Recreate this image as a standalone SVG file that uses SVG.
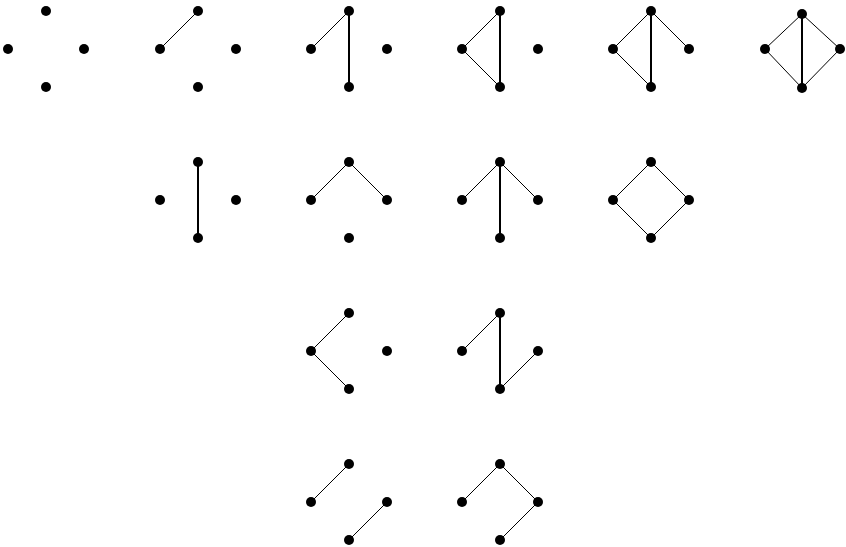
<svg xmlns="http://www.w3.org/2000/svg" width="846" height="547" viewBox="0 0 846 547">
<style>
.e{stroke:#000;stroke-width:1;fill:none}
.v{stroke:#000;stroke-width:2;fill:none}
.d{fill:#000}
</style>
<rect width="846" height="547" fill="#fff"/>
<g id="connectors">
<!-- G2 -->
<line class="e" x1="160" y1="49" x2="198" y2="11"/>
<!-- G3 -->
<line class="e" x1="311" y1="49" x2="349" y2="11"/>
<line class="v" x1="349" y1="11" x2="349" y2="87"/>
<!-- G4 -->
<line class="e" x1="462" y1="49" x2="500" y2="11"/>
<line class="e" x1="462" y1="49" x2="500" y2="87"/>
<line class="v" x1="500" y1="11" x2="500" y2="87"/>
<!-- G5 -->
<line class="e" x1="613" y1="49" x2="651" y2="11"/>
<line class="e" x1="613" y1="49" x2="651" y2="87"/>
<line class="v" x1="651" y1="11" x2="651" y2="87"/>
<line class="e" x1="651" y1="11" x2="689" y2="49"/>
<!-- G6 -->
<line class="e" x1="765" y1="49" x2="802" y2="14"/>
<line class="e" x1="765" y1="49" x2="802" y2="88"/>
<line class="v" x1="802" y1="14" x2="802" y2="88"/>
<line class="e" x1="802" y1="14" x2="840" y2="49"/>
<line class="e" x1="840" y1="49" x2="802" y2="88"/>
<!-- G7 -->
<line class="v" x1="198" y1="162" x2="198" y2="238"/>
<!-- G8 -->
<line class="e" x1="311" y1="200" x2="349" y2="162"/>
<line class="e" x1="349" y1="162" x2="387" y2="200"/>
<!-- G9 -->
<line class="e" x1="462" y1="200" x2="500" y2="162"/>
<line class="e" x1="500" y1="162" x2="538" y2="200"/>
<line class="v" x1="500" y1="162" x2="500" y2="238"/>
<!-- G10 -->
<line class="e" x1="613" y1="200" x2="651" y2="162"/>
<line class="e" x1="651" y1="162" x2="689" y2="200"/>
<line class="e" x1="689" y1="200" x2="651" y2="238"/>
<line class="e" x1="651" y1="238" x2="613" y2="200"/>
<!-- G11 -->
<line class="e" x1="311" y1="351" x2="349" y2="313"/>
<line class="e" x1="311" y1="351" x2="349" y2="389"/>
<!-- G12 -->
<line class="e" x1="462" y1="351" x2="500" y2="313"/>
<line class="v" x1="500" y1="313" x2="500" y2="389"/>
<line class="e" x1="538" y1="351" x2="500" y2="389"/>
<!-- G13 -->
<line class="e" x1="311" y1="502" x2="349" y2="464"/>
<line class="e" x1="387" y1="502" x2="349" y2="540"/>
<!-- G14 -->
<line class="e" x1="462" y1="502" x2="500" y2="464"/>
<line class="e" x1="500" y1="464" x2="538" y2="502"/>
<line class="e" x1="538" y1="502" x2="500" y2="540"/>
</g>
<g id="g1"><circle class="d" cx="46" cy="11" r="5"/><circle class="d" cx="8" cy="49" r="5"/><circle class="d" cx="84" cy="49" r="5"/><circle class="d" cx="46" cy="87" r="5"/></g>
<g id="g2"><circle class="d" cx="198" cy="11" r="5"/><circle class="d" cx="160" cy="49" r="5"/><circle class="d" cx="236" cy="49" r="5"/><circle class="d" cx="198" cy="87" r="5"/></g>
<g id="g3"><circle class="d" cx="349" cy="11" r="5"/><circle class="d" cx="311" cy="49" r="5"/><circle class="d" cx="387" cy="49" r="5"/><circle class="d" cx="349" cy="87" r="5"/></g>
<g id="g4"><circle class="d" cx="500" cy="11" r="5"/><circle class="d" cx="462" cy="49" r="5"/><circle class="d" cx="538" cy="49" r="5"/><circle class="d" cx="500" cy="87" r="5"/></g>
<g id="g5"><circle class="d" cx="651" cy="11" r="5"/><circle class="d" cx="613" cy="49" r="5"/><circle class="d" cx="689" cy="49" r="5"/><circle class="d" cx="651" cy="87" r="5"/></g>
<g id="g6"><circle class="d" cx="802" cy="14" r="5"/><circle class="d" cx="765" cy="49" r="5"/><circle class="d" cx="840" cy="49" r="5"/><circle class="d" cx="802" cy="88" r="5"/></g>
<g id="g7"><circle class="d" cx="198" cy="162" r="5"/><circle class="d" cx="160" cy="200" r="5"/><circle class="d" cx="236" cy="200" r="5"/><circle class="d" cx="198" cy="238" r="5"/></g>
<g id="g8"><circle class="d" cx="349" cy="162" r="5"/><circle class="d" cx="311" cy="200" r="5"/><circle class="d" cx="387" cy="200" r="5"/><circle class="d" cx="349" cy="238" r="5"/></g>
<g id="g9"><circle class="d" cx="500" cy="162" r="5"/><circle class="d" cx="462" cy="200" r="5"/><circle class="d" cx="538" cy="200" r="5"/><circle class="d" cx="500" cy="238" r="5"/></g>
<g id="g10"><circle class="d" cx="651" cy="162" r="5"/><circle class="d" cx="613" cy="200" r="5"/><circle class="d" cx="689" cy="200" r="5"/><circle class="d" cx="651" cy="238" r="5"/></g>
<g id="g11"><circle class="d" cx="349" cy="313" r="5"/><circle class="d" cx="311" cy="351" r="5"/><circle class="d" cx="387" cy="351" r="5"/><circle class="d" cx="349" cy="389" r="5"/></g>
<g id="g12"><circle class="d" cx="500" cy="313" r="5"/><circle class="d" cx="462" cy="351" r="5"/><circle class="d" cx="538" cy="351" r="5"/><circle class="d" cx="500" cy="389" r="5"/></g>
<g id="g13"><circle class="d" cx="349" cy="464" r="5"/><circle class="d" cx="311" cy="502" r="5"/><circle class="d" cx="387" cy="502" r="5"/><circle class="d" cx="349" cy="540" r="5"/></g>
<g id="g14"><circle class="d" cx="500" cy="464" r="5"/><circle class="d" cx="462" cy="502" r="5"/><circle class="d" cx="538" cy="502" r="5"/><circle class="d" cx="500" cy="540" r="5"/></g>
</svg>
